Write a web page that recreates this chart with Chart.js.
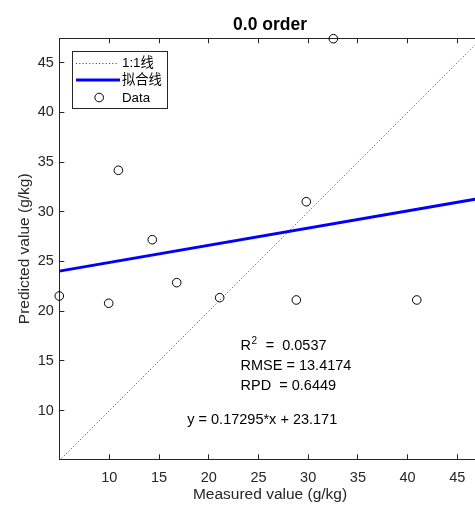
<!DOCTYPE html>
<html><head><meta charset="utf-8">
<style>
html,body{margin:0;padding:0;overflow:hidden;background:#fff;width:475px;height:506px}
canvas{display:block}
</style>
<script src="https://cdn.jsdelivr.net/npm/chart.js@4/dist/chart.umd.min.js"></script>
</head><body>
<canvas id="c" width="495" height="506"></canvas>
<script>
// ---- data ----
const measured  = [4.97, 9.94, 10.91, 14.32, 16.78, 21.10, 28.81, 29.81, 32.53, 40.92];
const predicted = [21.53, 20.80, 34.17, 27.19, 22.87, 21.36, 21.13, 31.01, 47.40, 21.13];
const fitX = [4.97, 47.35];
const fitY = [24.03, 31.36];
const oneToOne = [4.97, 47.44];
const xLimits = [4.97, 47.35];
const yLimits = [5.11, 47.44];
const xTicks = [10, 15, 20, 25, 30, 35, 40, 45];
const yTicks = [10, 15, 20, 25, 30, 35, 40, 45];
const seriesLabels = ['1:1线', '拟合线', 'Data'];
const statLines = ['RMSE = 13.4174', 'RPD  = 0.6449'];
const r2Text = '  =  0.0537';
const equationText = 'y = 0.17295*x + 23.171';
const titleText = '0.0 order';
const xTitle = 'Measured value (g/kg)';
const yTitle = 'Predicted value (g/kg)';

const FONT = "'Liberation Sans', Arial, 'Noto Sans CJK SC', sans-serif";
const AX = '#262626';

const pts = (xs, ys) => xs.map((x, i) => ({x, y: ys[i]}));

const overlay = {
  id: 'overlay',
  afterDraw(chart) {
    const {ctx, chartArea: a, scales} = chart;
    const sx = scales.x, sy = scales.y;
    const ds = chart.data.datasets;
    ctx.save();
    // statistics text
    ctx.fillStyle = '#000';
    ctx.textBaseline = 'alphabetic';
    ctx.textAlign = 'left';
    const tx = sx.getPixelForValue(23.2);
    const rowY = [16.64, 14.63, 12.62].map(v => sy.getPixelForValue(v) + 5.2);
    ctx.font = `14.5px ${FONT}`;
    ctx.fillText('R', tx, rowY[0]);
    let w = ctx.measureText('R').width;
    ctx.font = `10px ${FONT}`;
    ctx.fillText('2', tx + w + 0.5, rowY[0] - 6);
    const w2 = ctx.measureText('2').width;
    ctx.font = `14.5px ${FONT}`;
    ctx.fillText(r2Text, tx + w + w2 + 1, rowY[0]);
    ctx.fillText(statLines[0], tx, rowY[1]);
    ctx.fillText(statLines[1], tx, rowY[2]);
    ctx.fillText(equationText, sx.getPixelForValue(17.84), sy.getPixelForValue(9.14) + 5.2);

    // legend box
    const bx = a.left + 12.4, by = a.top + 12.4, bw = 94.5, bh = 57;
    ctx.fillStyle = '#fff';
    ctx.fillRect(bx, by, bw, bh);
    ctx.strokeStyle = AX;
    ctx.lineWidth = 1;
    ctx.strokeRect(Math.round(bx) + 0.5, Math.round(by) + 0.5, Math.round(bw), Math.round(bh));
    const ry = [by + 12.3, by + 29.3, by + 46.8];
    const lx1 = bx + 4.3, lx2 = bx + 46.3, textX = bx + 50.3;
    // 1:1 sample
    ctx.beginPath();
    ctx.strokeStyle = ds[0].borderColor; ctx.lineWidth = ds[0].borderWidth;
    ctx.setLineDash(ds[0].borderDash);
    ctx.moveTo(lx1, Math.round(ry[0]) + 0.5); ctx.lineTo(lx2, Math.round(ry[0]) + 0.5); ctx.stroke();
    ctx.setLineDash([]);
    // fit sample
    ctx.beginPath();
    ctx.strokeStyle = ds[1].borderColor; ctx.lineWidth = ds[1].borderWidth;
    ctx.moveTo(lx1, ry[1]); ctx.lineTo(lx2 + 2, ry[1]); ctx.stroke();
    // data sample
    ctx.beginPath();
    ctx.strokeStyle = ds[2].borderColor; ctx.lineWidth = 1;
    ctx.arc(bx + 27.5, ry[2], ds[2].pointRadius, 0, Math.PI * 2); ctx.stroke();
    ctx.fillStyle = '#000';
    ctx.font = `13.3px ${FONT}`;
    ctx.textBaseline = 'middle';
    ds.forEach((d, i) => ctx.fillText(d.label, textX, ry[i] + 0.5));
    ctx.restore();
  }
};

const tickCb = v => String(v);

new Chart(document.getElementById('c'), {
  type: 'scatter',
  data: {
    datasets: [
      { label: seriesLabels[0], type: 'line', data: pts(oneToOne, oneToOne), showLine: true,
        borderColor: '#3a3a3a', borderWidth: 1, borderDash: [1, 2.3], pointRadius: 0, fill: false, order: 3 },
      { label: seriesLabels[1], type: 'line', data: pts(fitX, fitY), showLine: true,
        borderColor: '#0000ff', borderWidth: 3, pointRadius: 0, fill: false, order: 2 },
      { label: seriesLabels[2], data: pts(measured, predicted), showLine: false,
        pointStyle: 'circle', pointRadius: 4.3, pointBorderWidth: 1, borderColor: '#000',
        pointBorderColor: '#000', pointBackgroundColor: 'rgba(0,0,0,0)', backgroundColor: 'rgba(0,0,0,0)',
        clip: false, order: 1 }
    ]
  },
  options: {
    responsive: false, animation: false, devicePixelRatio: 1,
    layout: { padding: { left: 0, right: 14.3, top: 0, bottom: 0 } },
    plugins: { legend: { display: false }, tooltip: { enabled: false }, title: { display: false } },
    scales: {
      x: {
        type: 'linear', position: 'bottom', min: xLimits[0], max: xLimits[1],
        afterBuildTicks: s => { s.ticks = xTicks.map(v => ({value: v})); },
        afterFit: s => { s.height = 506 - 459.3; },
        grid: { display: true, drawOnChartArea: false, drawTicks: true, tickLength: -5, color: AX, tickColor: AX, lineWidth: 1 },
        border: { display: true, color: AX, width: 1 },
        ticks: { font: { family: FONT, size: 14.5 }, color: AX, padding: 14.5, maxRotation: 0, autoSkip: false, callback: tickCb },
        title: { display: true, text: xTitle, font: { family: FONT, size: 15.5 }, color: AX, padding: { top: 0, bottom: 2 } }
      },
      x2: {
        type: 'linear', position: 'top', min: xLimits[0], max: xLimits[1],
        afterBuildTicks: s => { s.ticks = xTicks.map(v => ({value: v})); },
        afterFit: s => { s.height = 38.3; },
        grid: { display: true, drawOnChartArea: false, drawTicks: true, tickLength: -5, color: AX, tickColor: AX, lineWidth: 1 },
        border: { display: true, color: AX, width: 1 },
        ticks: { display: false },
        title: { display: true, text: titleText, font: { family: FONT, size: 17.5, weight: 'bold' }, color: '#000', padding: { top: 14.5, bottom: 0 } }
      },
      y: {
        type: 'linear', position: 'left', min: yLimits[0], max: yLimits[1],
        afterBuildTicks: s => { s.ticks = yTicks.map(v => ({value: v})); },
        afterFit: s => { s.width = 59.3; },
        grid: { display: true, drawOnChartArea: false, drawTicks: true, tickLength: -5, color: AX, tickColor: AX, lineWidth: 1 },
        border: { display: true, color: AX, width: 1 },
        ticks: { font: { family: FONT, size: 14.5 }, color: AX, padding: 10.5, autoSkip: false, callback: tickCb },
        title: { display: true, text: yTitle, font: { family: FONT, size: 15.5 }, color: AX, padding: { top: 15.4, bottom: 0 } }
      },
      y2: {
        type: 'linear', position: 'right', min: yLimits[0], max: yLimits[1],
        afterBuildTicks: s => { s.ticks = yTicks.map(v => ({value: v})); },
        afterFit: s => { s.width = 0; },
        grid: { display: true, drawOnChartArea: false, drawTicks: true, tickLength: -5, color: AX, tickColor: AX, lineWidth: 1 },
        border: { display: true, color: AX, width: 1 },
        ticks: { display: false }
      }
    }
  },
  plugins: [overlay]
});
</script>
</body></html>
